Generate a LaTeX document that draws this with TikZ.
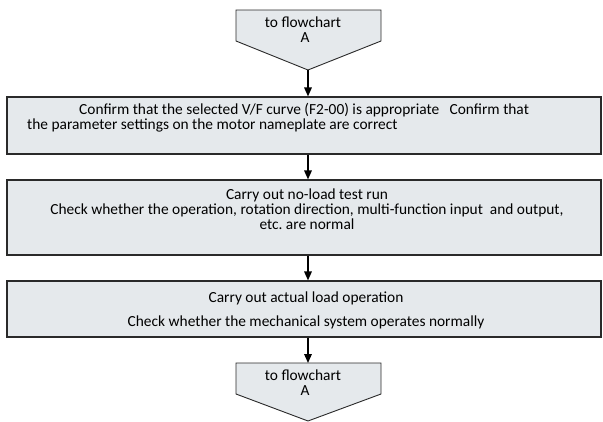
\documentclass[tikz,border=0pt]{standalone}
\usepackage{fontspec}
\setmainfont{Carlito}
\usetikzlibrary{arrows.meta}
\frenchspacing
\definecolor{boxfill}{HTML}{E5E9EC}
\definecolor{boxline}{HTML}{2A2A2A}
\tikzset{
  box/.style={draw=boxline, line width=1.1pt, fill=boxfill, rectangle, inner sep=0pt},
  pent/.style={draw=boxline, line width=0.9pt, fill=boxfill},
  txt/.style={inner sep=0pt, font=\fontsize{15.4}{15.2}\selectfont},
  arr/.style={line width=1.6pt, -{Triangle[length=9pt,width=7.5pt]}},
}
\begin{document}
\begin{tikzpicture}[x=1pt,y=-1pt]
\useasboundingbox (0,0) rectangle (603,421);
% top connector
\draw[pent] (236,10) -- (381,10) -- (381,41) -- (308,70) -- (236,41) -- cycle;
\coordinate (tip1) at (308,70);
\node[txt, align=center] (t1) at (303,30) {to flowchart\\\hspace*{4pt}A};
% boxes
\node[box, minimum width=594pt, minimum height=57pt] (b1) at (304,125.5) {};
\node[box, minimum width=594pt, minimum height=75pt] (b2) at (304,217.5) {};
\node[box, minimum width=594pt, minimum height=56pt] (b3) at (304,309) {};
% bottom connector
\draw[pent] (236,363) -- (381,363) -- (381,394) -- (308,421) -- (236,394) -- cycle;
\coordinate (top2) at (308,363);
\node[txt, align=center] (t2) at (303,383) {to flowchart\\\hspace*{4pt}A};
% texts
\node[txt, anchor=north west, align=left] (x1) at (27,103)
  {\hspace*{52pt}Confirm that the selected V/F curve (F2-00) is appropriate\ \ \ Confirm that\\the parameter settings on the motor nameplate are correct};
\node[txt, align=center] (x2) at (307,209)
  {Carry out no-load test run\\Check whether the operation, rotation direction, multi-function input\ \ and output,\\etc. are normal};
\node[txt] (x3a) at (306,298) {Carry out actual load operation};
\node[txt] (x3b) at (306,322) {Check whether the mechanical system operates normally};
% arrows
\draw[arr] (tip1) -- (tip1 |- b1.north);
\draw[arr] (tip1 |- b1.south) -- (tip1 |- b2.north);
\draw[arr] (tip1 |- b2.south) -- (tip1 |- b3.north);
\draw[arr] (tip1 |- b3.south) -- (top2);
\end{tikzpicture}
\end{document}
